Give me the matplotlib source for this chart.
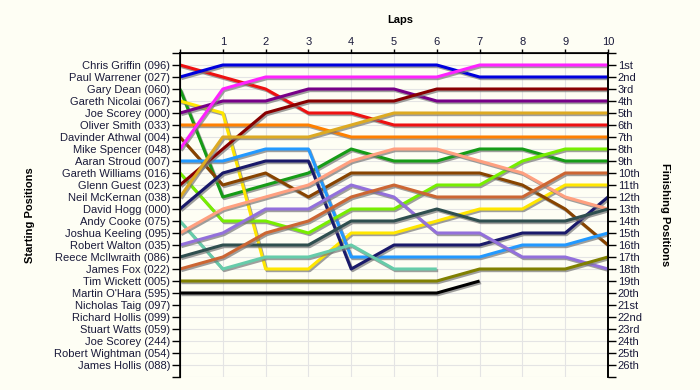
import matplotlib.pyplot as plt
import matplotlib.patheffects as pe

plt.rcParams['font.family'] = ['Liberation Sans', 'DejaVu Sans']

# starting grid (top to bottom)
drivers = ["Chris Griffin (096)", "Paul Warrener (027)", "Gary Dean (060)",
           "Gareth Nicolai (067)", "Joe Scorey (000)", "Oliver Smith (033)",
           "Davinder Athwal (004)", "Mike Spencer (048)", "Aaran Stroud (007)",
           "Gareth Williams (016)", "Glenn Guest (023)", "Neil McKernan (038)",
           "David Hogg (000)", "Andy Cooke (075)", "Joshua Keeling (095)",
           "Robert Walton (035)", "Reece McIlwraith (086)", "James Fox (022)",
           "Tim Wickett (005)", "Martin O'Hara (595)", "Nicholas Taig (097)",
           "Richard Hollis (099)", "Stuart Watts (059)", "Joe Scorey (244)",
           "Robert Wightman (054)", "James Hollis (088)"]

# position at lap 0..10 (shorter list = retired)
positions = [
    [1, 2, 3, 5, 5, 6, 6, 6, 6, 6, 6],
    [2, 1, 1, 1, 1, 1, 1, 2, 2, 2, 2],
    [3, 12, 11, 10, 8, 9, 9, 8, 8, 9, 9],
    [4, 5, 18, 18, 15, 15, 14, 13, 13, 11, 11],
    [5, 4, 4, 3, 3, 3, 4, 4, 4, 4, 4],
    [6, 6, 6, 6, 7, 7, 7, 7, 7, 7, 7],
    [7, 11, 10, 12, 10, 10, 10, 10, 11, 13, 16],
    [8, 3, 2, 2, 2, 2, 2, 1, 1, 1, 1],
    [9, 9, 8, 8, 17, 17, 17, 17, 16, 16, 15],
    [10, 14, 14, 15, 13, 13, 11, 11, 9, 8, 8],
    [11, 8, 5, 4, 4, 4, 3, 3, 3, 3, 3],
    [12, 7, 7, 7, 6, 5, 5, 5, 5, 5, 5],
    [13, 10, 9, 9, 18, 16, 16, 16, 15, 15, 12],
    [14, 18, 17, 17, 16, 18, 18],
    [15, 13, 12, 11, 9, 8, 8, 9, 10, 12, 13],
    [16, 15, 13, 13, 11, 12, 15, 15, 17, 17, 18],
    [17, 16, 16, 16, 14, 14, 13, 14, 14, 14, 13],
    [18, 17, 15, 14, 12, 11, 12, 12, 12, 10, 10],
    [19, 19, 19, 19, 19, 19, 19, 18, 18, 18, 17],
    [20, 20, 20, 20, 20, 20, 20, 19],
]

colors = ['#ee1111', '#0000dd', '#169c16', '#ffe600', '#770088', '#ff8000',
          '#884400', '#ff22ff', '#2299ff', '#77ee00', '#880000', '#ddaa22',
          '#1a1a6a', '#66ccaa', '#ffa080', '#9370db', '#2f4f4f', '#cc6633',
          '#808000', '#000000']

ordinals = ["1st", "2nd", "3rd"] + [f"{n}th" for n in range(4, 21)] + \
           ["21st", "22nd", "23rd", "24th", "25th", "26th"]
laps = list(range(0, 11))

bg = '#fefef4'
txt = '#1a1a3a'

fig = plt.figure(figsize=(7, 3.9), dpi=100, facecolor=bg)
ax = fig.add_axes([180/700, 13/390, 428/700, 324/390], facecolor=bg)

for i, pos in enumerate(positions):
    ax.plot(laps[:len(pos)], pos, color=colors[i], linewidth=2.2,
            solid_capstyle='butt', zorder=3,
            path_effects=[pe.SimpleLineShadow(offset=(1, -1.2), shadow_color='#777777', alpha=0.7),
                          pe.Normal()])

ax.set_xlim(0, 10)
ax.set_ylim(27, 0)

ax.set_yticks(range(0, 28))
ax.set_yticklabels([''] + drivers + [''], fontsize=8, color=txt)
ax.set_xticks(laps)
ax.set_xticklabels([''] + [str(l) for l in laps[1:]], fontsize=8, color=txt)
ax.xaxis.tick_top()
ax.tick_params(axis='x', length=3, pad=1, width=1)
ax.tick_params(axis='y', length=6, pad=1, width=1)
ax.grid(True, color='#e4e4e4', linewidth=0.8, zorder=0)
ax.spines['bottom'].set_visible(False)
for s in ['top', 'left', 'right']:
    ax.spines[s].set_linewidth(1.2)

ax2 = ax.twinx()
ax2.set_ylim(27, 0)
ax2.set_yticks(range(0, 28))
ax2.set_yticklabels([''] + ordinals + [''], fontsize=8, color=txt)
ax2.tick_params(axis='y', length=6, pad=1, width=1)
ax2.spines['bottom'].set_visible(False)
ax2.spines['right'].set_linewidth(1.2)

fig.text(0.5714, 1 - 20/390, 'Laps', ha='center', va='center', fontsize=8, fontweight='bold')
fig.text(30/700, 1 - 215/390, 'Starting Positions', ha='center', va='center',
         rotation=90, fontsize=8, fontweight='bold')
fig.text(665/700, 1 - 215/390, 'Finishing Positions', ha='center', va='center',
         rotation=270, fontsize=8, fontweight='bold')

fig.savefig('out.png', dpi=100, facecolor=bg)
